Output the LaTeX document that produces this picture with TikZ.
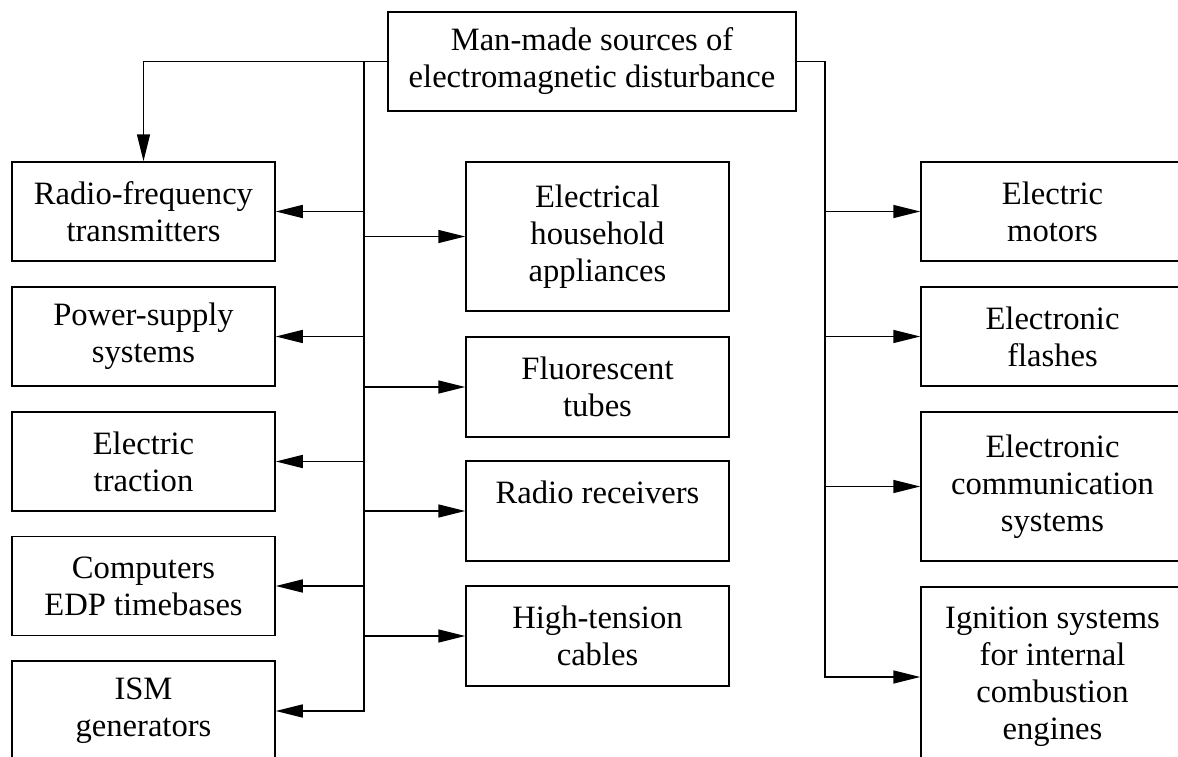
\documentclass[tikz,border=0pt]{standalone}
\usepackage{fontspec}
\setmainfont{Liberation Serif}
\usetikzlibrary{arrows.meta}
\begin{document}
\begin{tikzpicture}[x=0.5pt,y=-0.5pt,
  box/.style={draw, line width=0.75pt, align=center, inner sep=0pt,
    font=\fontsize{16.3}{18.5}\selectfont},
  lbox/.style={box, minimum width=131.5pt, minimum height=49.5pt},
  arr/.style={-{Triangle[length=13.5pt,width=6.5pt]}, line width=0.75pt},
  ln/.style={line width=0.75pt}]
\useasboundingbox (0,0) rectangle (1178,756);
\clip (0,0) rectangle (1178,756);
% top
\node[box, minimum width=204pt, minimum height=49.5pt] (top) at (592,61.5)
  {Man-made sources of\\electromagnetic disturbance};
% left column
\node[lbox] (rf)  at (143.5,211.5) {Radio-frequency\\transmitters};
\node[lbox] (ps)  at (143.5,336.5) {Power-supply\\systems};
\node[lbox] (et)  at (143.5,461.5) {Electric\\traction};
\node[lbox] (cp)  at (143.5,586)   {Computers\\EDP timebases};
\node[lbox, minimum height=50pt] (ism) at (143.5,711) {ISM\\generators};
% middle column
\node[lbox, minimum height=74.5pt] (hh) at (597.5,236.5) {Electrical\\household\\appliances};
\node[lbox, minimum height=50pt] (ft) at (597.5,387) {Fluorescent\\tubes};
\node[lbox, minimum height=50pt] (rr) at (597.5,511) {Radio receivers\\\mbox{}};
\node[lbox, minimum height=50pt] (ht) at (597.5,636) {High-tension\\cables};
% right column
\node[lbox] (em) at (1052.5,211.5) {Electric\\motors};
\node[lbox] (ef) at (1052.5,336.5) {Electronic\\flashes};
\node[lbox, minimum height=74.5pt] (ec) at (1052.5,486.5) {Electronic\\communication\\systems};
\node[lbox, minimum height=90pt] (ig) at (1052.5,677) {Ignition systems\\for internal\\combustion\\engines};
% connectors
\coordinate (j1) at (364,61.5);
\coordinate (j2) at (825,61.5);
\draw[arr] (top.west) -| (rf.north);
\draw[arr] (j1) -- (j1 |- ism.east) -- (ism.east);
\foreach \n in {rf,ps,et,cp} \draw[arr] (j1 |- \n.east) -- (\n.east);
\foreach \n in {hh,ft,rr,ht} \draw[arr] (j1 |- \n.west) -- (\n.west);
\draw[arr] (top.east) -- (j2) -- (j2 |- ig.west) -- (ig.west);
\foreach \n in {em,ef,ec} \draw[arr] (j2 |- \n.west) -- (\n.west);
\end{tikzpicture}
\end{document}
